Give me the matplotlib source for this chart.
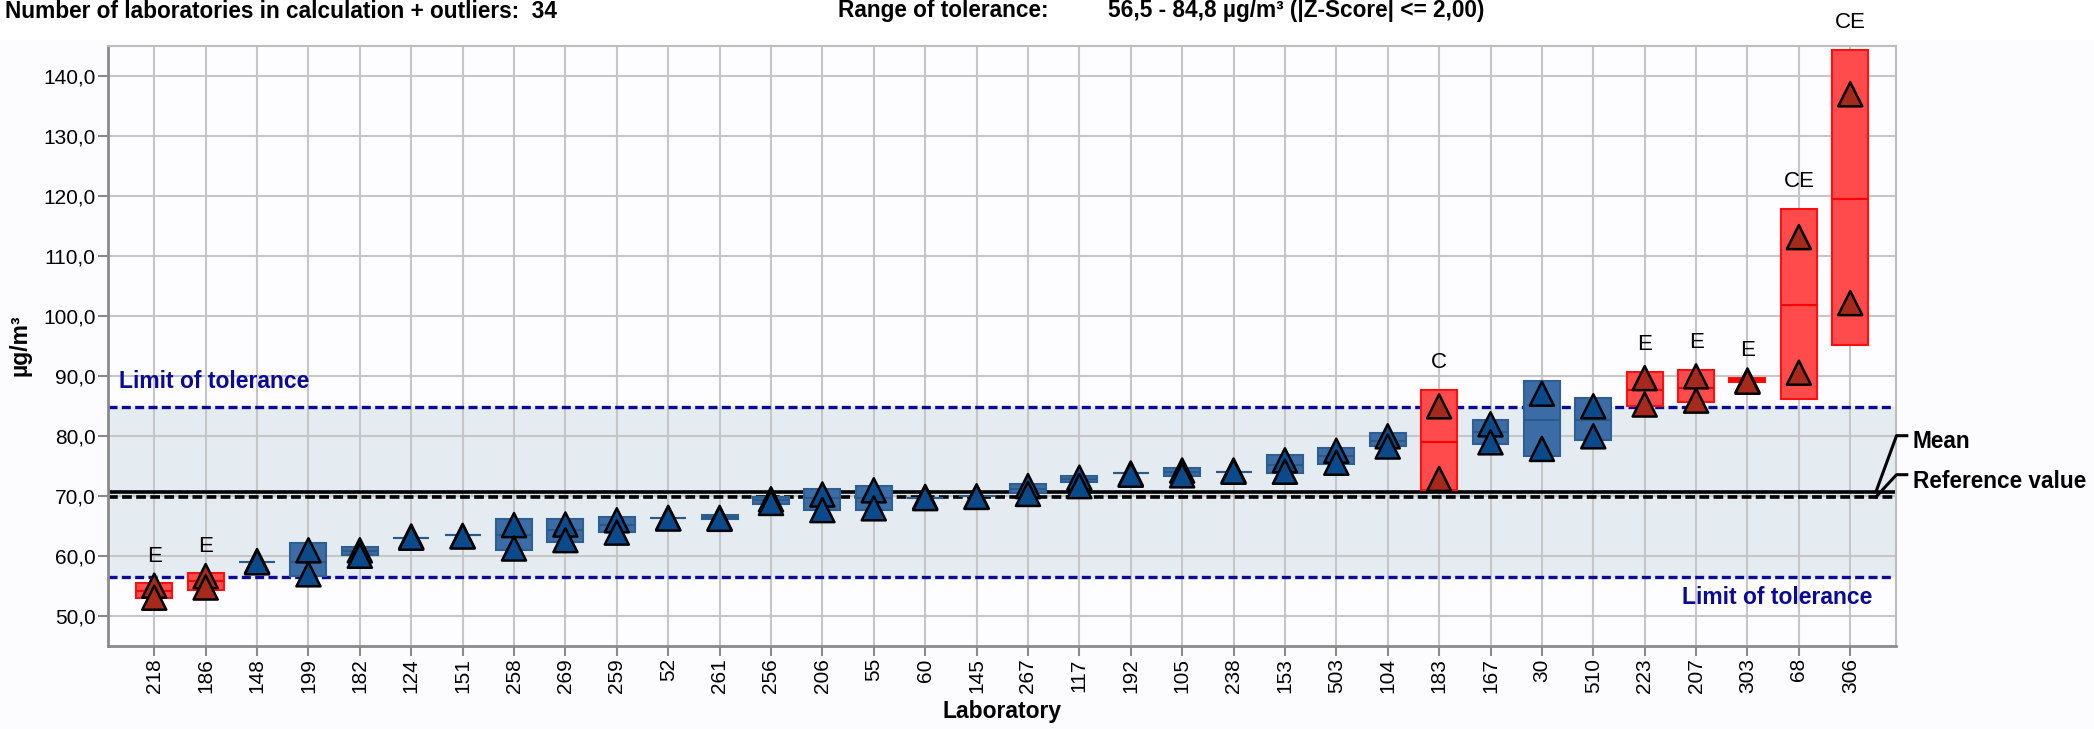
import numpy as np
import matplotlib
matplotlib.use("Agg")
import matplotlib.pyplot as plt
from matplotlib.ticker import FuncFormatter, MultipleLocator

# laboratories, sorted by their mean result
labs = ['218', '186', '148', '199', '182', '124', '151', '258', '269', '259',
        '52', '261', '256', '206', '55', '60', '145', '267', '117', '192',
        '105', '238', '153', '503', '104', '183', '167', '30', '510', '223',
        '207', '303', '68', '306']

# box (lower / upper edge and centre line) in µg/m³
box_low = [53.0, 54.3, 59.0, 56.6, 60.2, 63.0, 63.4, 61.0, 62.3, 64.0,
           66.3, 66.2, 68.6, 67.6, 67.6, 69.7, 69.9, 70.5, 72.3, 73.85,
           73.3, 74.0, 73.85, 75.25, 78.3, 70.9, 78.6, 76.65, 79.3, 84.9,
           85.6, 88.9, 86.2, 95.2]
box_high = [55.4, 57.1, 59.0, 62.1, 61.5, 63.0, 63.4, 66.1, 66.1, 66.5,
            66.3, 66.8, 69.8, 71.05, 71.6, 69.7, 69.9, 72.0, 73.3, 73.85,
            74.7, 74.0, 76.8, 78.0, 80.4, 87.7, 82.7, 89.05, 86.3, 90.7,
            91.0, 89.7, 117.8, 144.3]
box_mid = [54.15, 55.8, 59.0, 59.0, 60.85, 63.0, 63.4, 63.4, 64.3, 65.2,
           66.3, 66.5, 69.3, 69.7, 69.7, 69.7, 69.9, 71.2, 72.8, 73.85,
           74.0, 74.0, 75.1, 76.65, 79.2, 79.0, 80.7, 82.7, 82.7, 87.7,
           88.0, 89.3, 101.8, 119.5]

# single results (two replicates per laboratory)
rep_high = [55.0, 56.6, 59.1, 60.9, 60.9, 63.2, 63.3, 65.1, 65.2, 65.9,
            66.3, 66.3, 69.4, 70.2, 70.9, 69.8, 69.9, 71.6, 73.0, 73.7,
            74.2, 74.2, 75.9, 77.5, 79.9, 84.9, 81.9, 87.0, 84.9, 89.6,
            89.9, 89.2, 113.1, 136.9]
rep_low = [53.0, 54.7, 58.9, 56.9, 60.0, 63.0, 63.2, 61.2, 62.6, 63.85,
           66.2, 66.15, 68.8, 67.6, 67.9, 69.6, 69.8, 70.3, 71.6, 73.5,
           73.4, 74.0, 74.0, 75.5, 78.2, 72.8, 78.9, 77.8, 79.9, 85.2,
           85.85, 89.0, 90.5, 102.1]

flags = {'218': 'E', '186': 'E', '183': 'C', '223': 'E', '207': 'E',
         '303': 'E', '68': 'CE', '306': 'CE'}

tol_low = 56.5
tol_high = 84.8
mean_value = 70.65
ref_value = 69.8
n_labs = 34

plt.rcParams['font.family'] = ['Liberation Sans', 'DejaVu Sans']
narrow = ['Liberation Sans Narrow', 'Liberation Sans', 'DejaVu Sans']
navy = '#0a0a96'

fig = plt.figure(figsize=(20.94, 7.29), dpi=100, facecolor='white')
fig.patches.append(plt.Rectangle((0, 0), 1, 1 - 40 / 729, transform=fig.transFigure,
                                 color='#fcfbfe', zorder=-10))
ax = fig.add_axes([108 / 2094, 1 - 645.7 / 729, (1896 - 108) / 2094, 600 / 729])
ax.set_facecolor('#fdfcfe')

x = np.arange(len(labs))
out = np.array([lab in flags for lab in labs])
low = np.array(box_low)
high = np.array(box_high)

face = np.where(out, '#ff4b4b', '#3b6ca6')
edge = np.where(out, '#ff1010', '#2d5f92')
ax.bar(x, high - low, bottom=low, width=0.7, color=face, edgecolor=edge,
       linewidth=1.5, zorder=3)
ax.hlines(box_mid, x - 0.35, x + 0.35, colors=np.where(out, '#ff0000', '#2a5a88'),
          linewidth=1.5, zorder=3.5)

tri = np.where(out, '#a52a1c', '#0b4a8a')
ax.scatter(x, rep_high, marker='^', s=300, c=tri, edgecolors='black',
           linewidths=1.8, zorder=4)
ax.scatter(x, rep_low, marker='^', s=300, c=tri, edgecolors='black',
           linewidths=1.8, zorder=4.1)

for i, lab in enumerate(labs):
    if lab in flags:
        ax.annotate(flags[lab], (i, high[i]), xytext=(0, 19.5),
                    textcoords='offset points', ha='center', va='center',
                    fontsize=16)

# tolerance band, mean and reference value
ax.axhspan(tol_low, tol_high, color='#e4ebf1', zorder=0.2)
ax.axhline(tol_high, color=navy, lw=2.4, ls=(0, (2.7, 1.3)), zorder=2)
ax.axhline(tol_low, color=navy, lw=2.4, ls=(0, (2.7, 1.3)), zorder=2)
ax.axhline(mean_value, color='black', lw=2.6, zorder=2.2)
ax.axhline(ref_value, color='black', lw=2.6, ls=(0, (2.7, 1.2)), zorder=2.1)

ax.annotate('Limit of tolerance', (-0.69, tol_high), xytext=(0, 10),
            textcoords='offset points', ha='left', va='bottom',
            fontsize=16.5, fontweight='bold', color=navy)
ax.annotate('Limit of tolerance', (33.43, tol_low), xytext=(0, -15),
            textcoords='offset points', ha='right', va='center',
            fontsize=16.5, fontweight='bold', color=navy)

# bracket labels to the right of the plot
mean_lab_y = mean_value + 9.35
ref_lab_y = ref_value + 3.7
ax.plot([33.5, 33.9, 34.1], [mean_value, mean_lab_y, mean_lab_y], color='black',
        lw=2.2, clip_on=False, zorder=5)
ax.plot([33.5, 33.9, 34.1], [ref_value, ref_lab_y, ref_lab_y], color='black',
        lw=2.2, clip_on=False, zorder=5)
ax.text(34.22, mean_lab_y - 1.0, 'Mean', fontsize=16.3, fontweight='bold',
        ha='left', va='center')
ax.text(34.22, ref_lab_y - 1.2, 'Reference value', fontsize=16.3, fontweight='bold',
        ha='left', va='center')

ax.set_xlim(-0.9, 33.89)
ax.set_ylim(45, 145)
ax.yaxis.set_major_locator(MultipleLocator(10))
ax.yaxis.set_major_formatter(FuncFormatter(lambda v, p: f'{v:.1f}'.replace('.', ',')))
ax.set_yticks([v for v in ax.get_yticks() if 50 <= v <= 140])
ax.set_xticks(x)
ax.set_xticklabels(labs, rotation=90)

ax.set_axisbelow(True)
ax.grid(True, color='#c6c6c6', lw=1.5)
for s in ['left', 'bottom']:
    ax.spines[s].set_color('#8a8a8a')
    ax.spines[s].set_linewidth(2)
for s in ['top', 'right']:
    ax.spines[s].set_color('#bdbdbd')
    ax.spines[s].set_linewidth(1.5)
ax.tick_params(axis='both', length=7, width=1.5, color='#8a8a8a', labelsize=15,
               pad=2)

ax.set_xlabel('Laboratory', fontsize=16.5, fontweight='bold', family=narrow, labelpad=5)
ax.set_ylabel('µg/m³', fontsize=16.5, fontweight='bold', family=narrow, labelpad=8)

fig.text(5 / 2094, 1 - 11 / 729,
         f'Number of laboratories in calculation + outliers:  {n_labs}',
         fontsize=16.3, fontweight='bold', family=narrow, va='center')
fig.text(838 / 2094, 1 - 11 / 729, 'Range of tolerance:', fontsize=16.3,
         fontweight='bold', family=narrow, va='center')
fig.text(1108 / 2094, 1 - 11 / 729,
         f"{tol_low:.1f} - {tol_high:.1f} µg/m³ (|Z-Score| <= 2,00)".replace('.', ','),
         fontsize=16.3, fontweight='bold', family=narrow, va='center')

fig.savefig('out.png', dpi=100, facecolor=fig.get_facecolor())
